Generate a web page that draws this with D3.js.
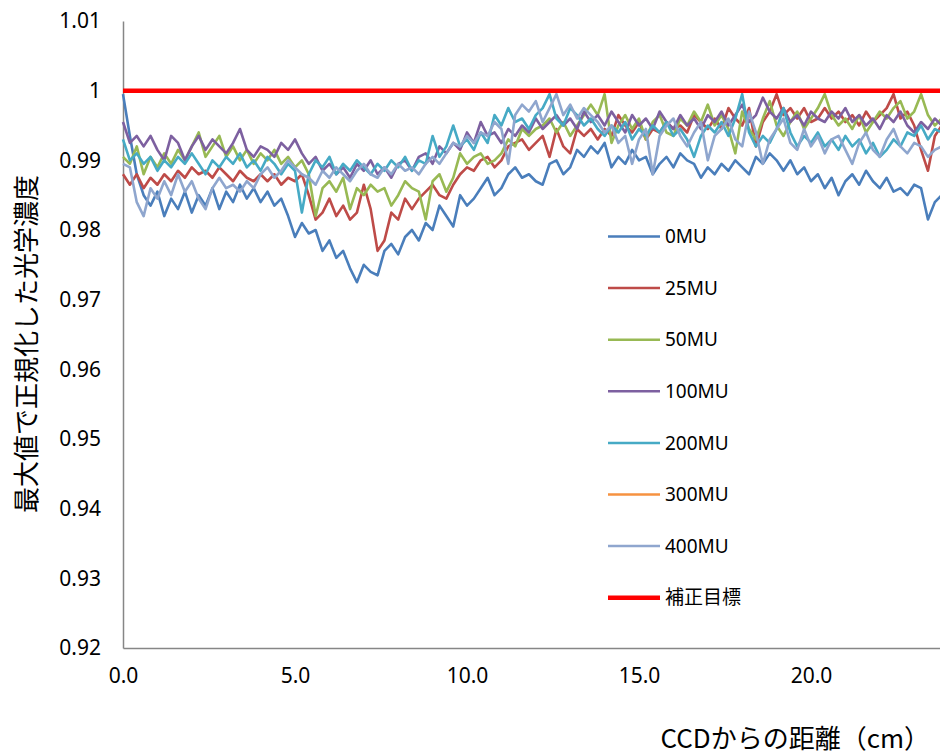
<!DOCTYPE html>
<html>
<head>
<meta charset="utf-8">
<script src="https://cdn.jsdelivr.net/npm/d3@7"></script>
<style>
  html, body { margin: 0; padding: 0; background: #fff; }
  svg { display: block; }
  text { font-family: "Noto Sans", "Noto Sans CJK JP", sans-serif; fill: #000; }
  .jp { font-family: "Noto Sans CJK JP", sans-serif; }
</style>
</head>
<body>
<svg id="chart" width="940" height="755"></svg>
<script>
// Sample spacing along the film (cm)
const sampleStep = 0.2;

// Normalised optical density per exposure, sampled every 0.2 cm from 0 cm
const mu0 = [
  0.9995,0.9935,0.9880,0.9850,0.9835,0.9855,0.9820,0.9845,0.9830,0.9855,
  0.9825,0.9850,0.9835,0.9860,0.9830,0.9855,0.9840,0.9865,0.9845,0.9860,
  0.9840,0.9855,0.9835,0.9845,0.9820,0.9790,0.9810,0.9795,0.9800,0.9770,
  0.9785,0.9760,0.9770,0.9745,0.9725,0.9750,0.9740,0.9735,0.9770,0.9780,
  0.9765,0.9790,0.9800,0.9785,0.9810,0.9800,0.9835,0.9820,0.9805,0.9850,
  0.9835,0.9845,0.9860,0.9875,0.9850,0.9860,0.9880,0.9890,0.9875,0.9880,
  0.9870,0.9865,0.9895,0.9900,0.9880,0.9890,0.9915,0.9905,0.9920,0.9910,
  0.9925,0.9890,0.9905,0.9895,0.9915,0.9900,0.9905,0.9880,0.9895,0.9905,
  0.9890,0.9910,0.9900,0.9895,0.9875,0.9890,0.9880,0.9895,0.9885,0.9900,
  0.9890,0.9880,0.9905,0.9895,0.9910,0.9900,0.9885,0.9900,0.9880,0.9890,
  0.9870,0.9880,0.9860,0.9875,0.9850,0.9870,0.9880,0.9865,0.9885,0.9870,
  0.9860,0.9875,0.9855,0.9860,0.9850,0.9865,0.9860,0.9815,0.9840,0.9850
];
const mu25 = [
  0.9880,0.9865,0.9880,0.9860,0.9875,0.9865,0.9880,0.9870,0.9885,0.9875,
  0.9890,0.9880,0.9885,0.9875,0.9890,0.9880,0.9870,0.9885,0.9875,0.9870,
  0.9880,0.9870,0.9880,0.9865,0.9875,0.9870,0.9880,0.9850,0.9815,0.9825,
  0.9845,0.9820,0.9835,0.9815,0.9825,0.9865,0.9830,0.9770,0.9785,0.9825,
  0.9815,0.9845,0.9830,0.9845,0.9855,0.9865,0.9850,0.9845,0.9865,0.9880,
  0.9890,0.9885,0.9900,0.9905,0.9890,0.9900,0.9920,0.9925,0.9930,0.9915,
  0.9925,0.9935,0.9905,0.9945,0.9920,0.9910,0.9945,0.9935,0.9945,0.9930,
  0.9945,0.9935,0.9965,0.9950,0.9940,0.9955,0.9930,0.9945,0.9940,0.9955,
  0.9945,0.9950,0.9940,0.9965,0.9955,0.9945,0.9960,0.9945,0.9975,0.9960,
  0.9950,0.9975,0.9920,0.9955,0.9970,0.9995,0.9965,0.9975,0.9960,0.9975,
  0.9955,0.9960,0.9975,0.9960,0.9970,0.9955,0.9965,0.9950,0.9970,0.9955,
  0.9965,0.9975,0.9995,0.9960,0.9970,0.9950,0.9915,0.9885,0.9935,0.9950
];
const mu50 = [
  0.9905,0.9895,0.9920,0.9880,0.9905,0.9890,0.9910,0.9895,0.9915,0.9900,
  0.9920,0.9940,0.9905,0.9920,0.9935,0.9905,0.9920,0.9900,0.9915,0.9895,
  0.9910,0.9900,0.9915,0.9895,0.9905,0.9890,0.9900,0.9880,0.9820,0.9860,
  0.9870,0.9855,0.9875,0.9830,0.9860,0.9850,0.9865,0.9855,0.9860,0.9835,
  0.9850,0.9870,0.9860,0.9855,0.9815,0.9870,0.9880,0.9855,0.9875,0.9910,
  0.9895,0.9905,0.9910,0.9895,0.9900,0.9910,0.9930,0.9920,0.9945,0.9935,
  0.9945,0.9950,0.9960,0.9940,0.9955,0.9935,0.9950,0.9965,0.9980,0.9965,
  0.9995,0.9925,0.9950,0.9965,0.9945,0.9960,0.9930,0.9955,0.9965,0.9940,
  0.9935,0.9960,0.9950,0.9970,0.9955,0.9980,0.9950,0.9965,0.9945,0.9910,
  0.9970,0.9945,0.9930,0.9960,0.9985,0.9950,0.9935,0.9955,0.9970,0.9945,
  0.9960,0.9975,0.9995,0.9965,0.9950,0.9960,0.9945,0.9965,0.9940,0.9955,
  0.9970,0.9960,0.9975,0.9985,0.9960,0.9970,0.9995,0.9965,0.9950,0.9960
];
const mu100 = [
  0.9955,0.9925,0.9935,0.9920,0.9935,0.9915,0.9900,0.9935,0.9925,0.9900,
  0.9920,0.9935,0.9915,0.9930,0.9920,0.9910,0.9925,0.9945,0.9915,0.9905,
  0.9920,0.9915,0.9905,0.9925,0.9915,0.9930,0.9910,0.9895,0.9905,0.9885,
  0.9895,0.9880,0.9890,0.9875,0.9895,0.9885,0.9900,0.9880,0.9890,0.9875,
  0.9895,0.9900,0.9885,0.9905,0.9910,0.9895,0.9920,0.9910,0.9925,0.9915,
  0.9940,0.9925,0.9955,0.9935,0.9940,0.9925,0.9945,0.9935,0.9950,0.9940,
  0.9960,0.9945,0.9955,0.9965,0.9950,0.9960,0.9945,0.9970,0.9955,0.9965,
  0.9950,0.9970,0.9955,0.9940,0.9965,0.9950,0.9960,0.9945,0.9970,0.9955,
  0.9945,0.9965,0.9950,0.9960,0.9945,0.9965,0.9955,0.9970,0.9950,0.9965,
  0.9980,0.9955,0.9965,0.9990,0.9970,0.9960,0.9975,0.9955,0.9965,0.9950,
  0.9970,0.9960,0.9955,0.9970,0.9960,0.9975,0.9955,0.9965,0.9950,0.9960,
  0.9945,0.9965,0.9955,0.9970,0.9950,0.9940,0.9955,0.9945,0.9960,0.9950
];
const mu200 = [
  0.9930,0.9900,0.9910,0.9895,0.9905,0.9885,0.9900,0.9890,0.9905,0.9895,
  0.9910,0.9895,0.9880,0.9900,0.9890,0.9905,0.9895,0.9910,0.9890,0.9900,
  0.9885,0.9905,0.9895,0.9880,0.9895,0.9885,0.9825,0.9880,0.9900,0.9890,
  0.9905,0.9880,0.9895,0.9885,0.9900,0.9890,0.9880,0.9895,0.9885,0.9900,
  0.9890,0.9905,0.9885,0.9900,0.9895,0.9935,0.9905,0.9920,0.9950,0.9920,
  0.9930,0.9915,0.9940,0.9925,0.9965,0.9950,0.9975,0.9955,0.9960,0.9945,
  0.9965,0.9975,0.9995,0.9960,0.9950,0.9975,0.9965,0.9950,0.9960,0.9945,
  0.9935,0.9950,0.9940,0.9955,0.9930,0.9945,0.9935,0.9950,0.9940,0.9955,
  0.9935,0.9945,0.9930,0.9905,0.9935,0.9950,0.9940,0.9955,0.9935,0.9960,
  0.9995,0.9940,0.9920,0.9935,0.9925,0.9945,0.9975,0.9940,0.9920,0.9935,
  0.9925,0.9940,0.9920,0.9930,0.9915,0.9935,0.9920,0.9930,0.9910,0.9925,
  0.9905,0.9915,0.9930,0.9920,0.9940,0.9935,0.9950,0.9930,0.9945,0.9940
];
const mu300 = [];
const mu400 = [
  0.9895,0.9890,0.9840,0.9820,0.9860,0.9845,0.9870,0.9850,0.9880,0.9855,
  0.9870,0.9845,0.9830,0.9860,0.9875,0.9860,0.9865,0.9855,0.9870,0.9860,
  0.9880,0.9890,0.9875,0.9885,0.9900,0.9890,0.9880,0.9875,0.9865,0.9885,
  0.9875,0.9890,0.9880,0.9870,0.9885,0.9895,0.9880,0.9875,0.9890,0.9880,
  0.9895,0.9885,0.9890,0.9880,0.9895,0.9905,0.9895,0.9910,0.9925,0.9920,
  0.9935,0.9925,0.9940,0.9935,0.9955,0.9945,0.9895,0.9965,0.9980,0.9970,
  0.9985,0.9955,0.9975,0.9995,0.9965,0.9980,0.9960,0.9975,0.9965,0.9955,
  0.9940,0.9950,0.9925,0.9935,0.9895,0.9930,0.9945,0.9880,0.9935,0.9950,
  0.9960,0.9935,0.9920,0.9940,0.9955,0.9900,0.9935,0.9945,0.9960,0.9930,
  0.9920,0.9970,0.9940,0.9895,0.9930,0.9945,0.9960,0.9925,0.9915,0.9945,
  0.9920,0.9935,0.9910,0.9930,0.9935,0.9915,0.9895,0.9925,0.9940,0.9915,
  0.9905,0.9930,0.9945,0.9920,0.9910,0.9925,0.9920,0.9905,0.9915,0.9920
];
// Correction target level
const targetLevel = 1.0;
const targetRange = [0, 23.75];

// Series names and colours
const seriesNames = ["0MU", "25MU", "50MU", "100MU", "200MU", "300MU", "400MU"];
const seriesValues = [mu0, mu25, mu50, mu100, mu200, mu300, mu400];
const seriesColors = ["#4A7EBB", "#BE4B48", "#98B954", "#7D60A0", "#46AAC5", "#F69240", "#8FA6CE"];
const targetName = "補正目標";
const targetColor = "#FF0000";

// Axis ticks
const yTicks = [0.92, 0.93, 0.94, 0.95, 0.96, 0.97, 0.98, 0.99, 1.0, 1.01];
const xTicks = [0, 5, 10, 15, 20];
const yTitle = "最大値で正規化した光学濃度";
const xTitle = "CCDからの距離（cm）";

const svg = d3.select("#chart");

const x = d3.scaleLinear().domain([0, 23.75]).range([123, 940]);
const y = d3.scaleLinear().domain([0.92, 1.01]).range([648, 21]);

// Axes (plain grey lines with no tick marks)
const yAxis = d3.axisLeft(y).tickValues(yTicks).tickSize(0).tickPadding(22)
  .tickFormat(d => d === 1 ? "1" : d3.format(".2f")(d));
const gy = svg.append("g").attr("transform", "translate(123,0)").call(yAxis);
gy.select(".domain").attr("stroke", "#868686").attr("stroke-width", 1.5);
gy.selectAll(".tick text").attr("font-size", 21).attr("font-family", "Noto Sans").attr("fill", "#000");

const xAxis = d3.axisBottom(x).tickValues(xTicks).tickSize(0).tickPadding(20)
  .tickFormat(d3.format(".1f"));
const gx = svg.append("g").attr("transform", "translate(0,648)").call(xAxis);
gx.select(".domain").attr("stroke", "#868686").attr("stroke-width", 1.5);
gx.selectAll(".tick text").attr("font-size", 21).attr("font-family", "Noto Sans").attr("fill", "#000");

// Series lines
const line = d3.line()
  .x(d => x(d[0]))
  .y(d => y(d[1]));

const plot = svg.append("g");
seriesValues.forEach((vals, k) => {
  if (!vals.length) return;
  const pts = vals.map((v, i) => [i * sampleStep, v]);
  plot.append("path")
    .datum(pts)
    .attr("fill", "none")
    .attr("stroke", seriesColors[k])
    .attr("stroke-width", 2.6)
    .attr("stroke-linejoin", "round")
    .attr("d", line);
});

// Target line
plot.append("path")
  .datum(targetRange.map(t => [t, targetLevel]))
  .attr("fill", "none")
  .attr("stroke", targetColor)
  .attr("stroke-width", 4.5)
  .attr("d", line);

// Legend
const legendNames = seriesNames.concat([targetName]);
const legendColors = seriesColors.concat([targetColor]);
const legend = svg.append("g");
legendNames.forEach((name, k) => {
  const cy = 236.5 + k * 51.6;
  legend.append("line")
    .attr("x1", 608).attr("x2", 660)
    .attr("y1", cy).attr("y2", cy)
    .attr("stroke", legendColors[k])
    .attr("stroke-width", k === legendNames.length - 1 ? 4.5 : 2.5);
  legend.append("text")
    .attr("x", 665).attr("y", cy)
    .attr("dy", "0.35em")
    .attr("font-size", 19)
    .attr("class", /MU$/.test(name) ? null : "jp")
    .text(name);
});

// Axis titles
svg.append("text")
  .attr("class", "jp")
  .attr("transform", "translate(27,344) rotate(-90)")
  .attr("text-anchor", "middle")
  .attr("dy", "0.35em")
  .attr("font-size", 26)
  .text(yTitle);

svg.append("text")
  .attr("class", "jp")
  .attr("x", 930).attr("y", 739)
  .attr("text-anchor", "end")
  .attr("dy", "0.35em")
  .attr("font-size", 26)
  .text(xTitle);
</script>
</body>
</html>
